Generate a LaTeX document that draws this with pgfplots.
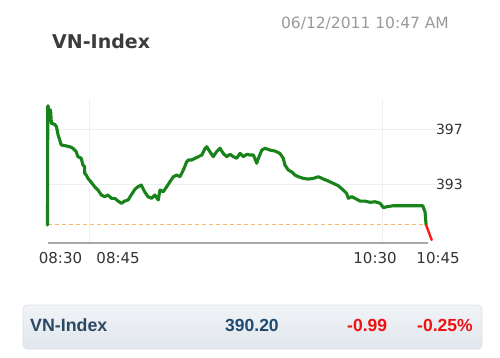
\documentclass[border=0pt]{standalone}
\usepackage{pgfplots}
\pgfplotsset{compat=1.18}
\usepackage{fontspec}
\setmainfont{DejaVu Sans}
\newfontfamily\arialfont{Liberation Sans}
\definecolor{lineGreen}{HTML}{17831A}
\definecolor{dropRed}{HTML}{FF1A1A}
\definecolor{baseOrange}{HTML}{F7B56E}
\definecolor{gridGray}{HTML}{EFEFEF}
\definecolor{axisGray}{HTML}{A8A8A8}
\definecolor{titleGray}{HTML}{3C3C3C}
\definecolor{dateGray}{HTML}{9A9A9A}
\definecolor{tickDark}{HTML}{333333}
\definecolor{barName}{HTML}{2B4865}
\definecolor{barValue}{HTML}{1F4B73}
\definecolor{barRed}{HTML}{EE1111}
\definecolor{barTop}{HTML}{F1F3F6}
\definecolor{barBottom}{HTML}{E1E7ED}
\definecolor{barBorder}{HTML}{D9E0E7}
\begin{document}
\begin{tikzpicture}[x=1pt,y=1pt]
\path[use as bounding box, fill=white] (0,0) rectangle (500,357);
% title and time stamp
\node[anchor=base west, inner sep=0pt, text=titleGray] at (52,308.7)
  {\fontsize{19}{22}\selectfont\bfseries VN-Index};
\node[anchor=base, inner sep=0pt, text=dateGray] at (365,328.7)
  {\fontsize{15.5}{18}\selectfont 06/12/2011 10:47 AM};
\begin{axis}[
  anchor=south west, at={(47.5pt,114pt)},
  x=2.79pt, y=13.75pt,
  xmin=0, xmax=140.5, ymin=388.71, ymax=399.2,
  clip=false,
  axis x line*=bottom, axis y line*=right,
  x axis line style={draw=none},
  y axis line style={draw=none},
  major tick length=0pt,
  /pgf/number format/assume math mode=true,
  xtick={4.66,25.3,117.4,140},
  xticklabels={08:30,08:45,10:30,10:45},
  ytick={393,397},
  ymajorgrids, grid style={draw=gridGray, line width=0.8pt},
  extra x ticks={15,120}, extra x tick labels={},
  extra x tick style={grid=major, major grid style={draw=gridGray, line width=0.8pt}},
  xticklabel style={font=\fontsize{15}{18}\selectfont, text=tickDark, yshift=-6pt},
  yticklabel style={font=\fontsize{14}{17}\selectfont, text=tickDark, xshift=-7pt},
]
% time axis line
\addplot[axisGray, line width=2pt] coordinates {(0,388.71) (136.2,388.71)};
% previous close (dashed)
\addplot[baseOrange, line width=1pt, dash pattern=on 4pt off 3pt] coordinates {(0,390.02) (135.6,390.02)};
% intraday line
\addplot[lineGreen, line width=3.1pt, line join=round, line cap=round] coordinates {
(0,390.02) (0.1,398.69) (0.2,398.69) (0.5,398.26) (1.1,398.38) (1.4,397.41) (2.6,397.34) (3.2,397.17)
(3.8,396.56) (4.4,396.20) (4.9,395.84) (6.2,395.79) (8.0,395.71) (9.1,395.60) (10.3,395.35)
(10.9,394.99) (12.1,394.87) (12.7,394.38) (13.3,394.26) (13.35,393.78) (13.9,393.65) (14.5,393.41)
(15.7,393.12) (16.9,392.80) (18.1,392.56) (19.3,392.20) (20.5,392.08) (21.7,392.20) (22.9,391.96)
(24.1,391.96) (25.3,391.76) (26.5,391.60) (27.7,391.76) (28.9,391.84) (30.0,392.20) (31.3,392.61)
(32.4,392.80) (33.6,392.93) (34.8,392.44) (36.0,392.08) (37.3,391.96) (38.5,392.20) (39.7,391.84)
(40.3,392.56) (41.5,392.44) (42.7,392.80) (43.9,393.17) (45.1,393.53) (46.3,393.65) (47.5,393.53)
(48.7,394.02) (49.9,394.62) (50.5,394.75) (51.7,394.75) (52.9,394.87) (54.1,394.99) (55.3,395.11)
(56.5,395.60) (57.1,395.71) (58.2,395.35) (59.4,394.99) (60.6,395.35) (61.8,395.60) (63.0,395.23)
(64.2,394.99) (65.4,395.16) (66.6,394.99) (67.8,394.87) (69.0,395.23) (70.2,394.99) (71.4,395.16)
(72.6,395.11) (73.8,395.11) (75.0,394.51) (75.6,394.87) (76.8,395.47) (78.0,395.60) (79.7,395.47)
(81.5,395.40) (83.3,395.23) (84.5,394.87) (85.1,394.38) (86.3,394.02) (87.5,393.89) (88.7,393.65)
(89.9,393.53) (91.7,393.41) (93.5,393.36) (95.3,393.41) (97.1,393.53) (98.9,393.36) (100.6,393.22)
(102.4,393.05) (104.2,392.88) (106.0,392.56) (107.2,392.32) (107.8,391.96) (109.0,392.08)
(110.2,391.96) (112.0,391.76) (113.8,391.76) (115.6,391.67) (117.4,391.71) (119.2,391.60)
(120.4,391.28) (121.6,391.35) (123.9,391.42) (127.5,391.42) (131.1,391.42) (134.5,391.42)
(135.3,390.98) (135.7,390.02)
};
% drop below previous close
\addplot[dropRed, line width=2.4pt, line cap=round] coordinates {(135.7,390.02) (137.7,388.93)};
\end{axis}
% bottom summary bar
\shade[top color=barTop, middle color=white, bottom color=barBottom, rounded corners=4pt]
  (23,8) rectangle (482,52);
\draw[barBorder, line width=0.6pt, rounded corners=4pt] (23,8) rectangle (482,52);
\node[anchor=base west, inner sep=0pt, text=barName] at (30,25.3)
  {\arialfont\fontsize{17.8}{20}\selectfont\bfseries VN-Index};
\node[anchor=base west, inner sep=0pt, text=barValue] at (225,25.3)
  {\arialfont\fontsize{17.5}{20}\selectfont\bfseries 390.20};
\node[anchor=base west, inner sep=0pt, text=barRed] at (347,25.3)
  {\arialfont\fontsize{17.5}{20}\selectfont\bfseries -0.99};
\node[anchor=base west, inner sep=0pt, text=barRed] at (417,25.3)
  {\arialfont\fontsize{17.5}{20}\selectfont\bfseries -0.25\%};
\end{tikzpicture}
\end{document}
